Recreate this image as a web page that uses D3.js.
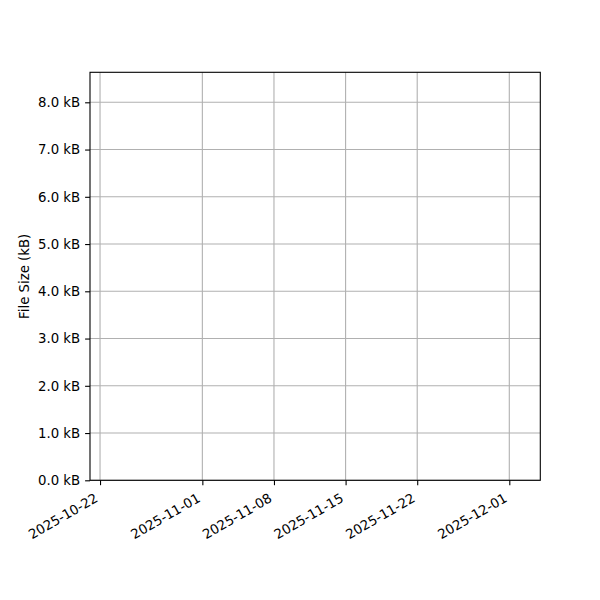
<!DOCTYPE html>
<html>
<head>
<meta charset="utf-8">
<script src="https://cdn.jsdelivr.net/npm/d3@7"></script>
<style>
  body { margin: 0; background: #fff; }
  text { font-family: "DejaVu Sans", sans-serif; }
</style>
</head>
<body>
<div id="chart"></div>
<script>
// axis limits and ticks
const xDomain = ['2025-10-21T00:28:00Z', '2025-12-04T00:43:00Z'];
const xTicks = ['2025-10-22', '2025-11-01', '2025-11-08', '2025-11-15', '2025-11-22', '2025-12-01'];
const yDomain = [0, 8.635];
const yTicks = [0, 1, 2, 3, 4, 5, 6, 7, 8];
const yLabel = 'File Size (kB)';

const margin = { top: 72.3, right: 59.7, bottom: 119.7, left: 90 };
const width = 600 - margin.left - margin.right;
const height = 600 - margin.top - margin.bottom;

const svg = d3.select('#chart')
  .append('svg')
  .attr('width', 600)
  .attr('height', 600)
  .append('g')
  .attr('transform', `translate(${margin.left}, ${margin.top})`);

const parseDay = d3.utcParse('%Y-%m-%d');
const fmtDay = d3.utcFormat('%Y-%m-%d');

const xScale = d3.scaleUtc()
  .domain(xDomain.map((d) => new Date(d)))
  .range([0, width]);

const yScale = d3.scaleLinear()
  .domain(yDomain)
  .range([height, 0]);

// grid
svg.append('g')
  .selectAll('line')
  .data(xTicks.map(parseDay))
  .enter()
  .append('line')
  .attr('x1', (d) => xScale(d))
  .attr('x2', (d) => xScale(d))
  .attr('y1', 0)
  .attr('y2', height)
  .attr('stroke', '#b0b0b0')
  .attr('stroke-width', 1.1);

svg.append('g')
  .selectAll('line')
  .data(yTicks)
  .enter()
  .append('line')
  .attr('x1', 0)
  .attr('x2', width)
  .attr('y1', (d) => yScale(d))
  .attr('y2', (d) => yScale(d))
  .attr('stroke', '#b0b0b0')
  .attr('stroke-width', 1.1);

// frame
svg.append('rect')
  .attr('width', width)
  .attr('height', height)
  .attr('fill', 'none')
  .attr('stroke', '#000')
  .attr('stroke-width', 1.1);

const xAxis = d3.axisBottom(xScale)
  .tickValues(xTicks.map(parseDay))
  .tickFormat(fmtDay)
  .tickSize(4.9)
  .tickPadding(4);
svg.append('g')
  .attr('transform', `translate(0, ${height})`)
  .attr('class', 'x-axis')
  .call(xAxis);

const yAxis = d3.axisLeft(yScale)
  .tickValues(yTicks)
  .tickFormat((d) => d3.format('.1f')(d) + ' kB')
  .tickSize(4.9)
  .tickPadding(4.9);
svg.append('g')
  .attr('class', 'y-axis')
  .call(yAxis);

d3.selectAll('.x-axis .domain, .y-axis .domain').remove();
d3.selectAll('.x-axis line, .y-axis line').attr('stroke', '#000').attr('stroke-width', 1.1);
d3.selectAll('.x-axis text, .y-axis text')
  .attr('fill', '#000')
  .attr('font-size', 13.3)
  .attr('font-family', '"DejaVu Sans", sans-serif');
// rotated date labels, right end hanging under the tick
d3.selectAll('.x-axis text')
  .attr('dy', null)
  .attr('y', 0)
  .attr('x', 0)
  .attr('transform', 'translate(-1.6, 20.5) rotate(-30)')
  .style('text-anchor', 'end');

svg.append('text')
  .attr('transform', `translate(-61, ${height / 2}) rotate(-90)`)
  .attr('text-anchor', 'middle')
  .attr('font-size', 13.3)
  .attr('fill', '#000')
  .text(yLabel);
</script>
</body>
</html>
